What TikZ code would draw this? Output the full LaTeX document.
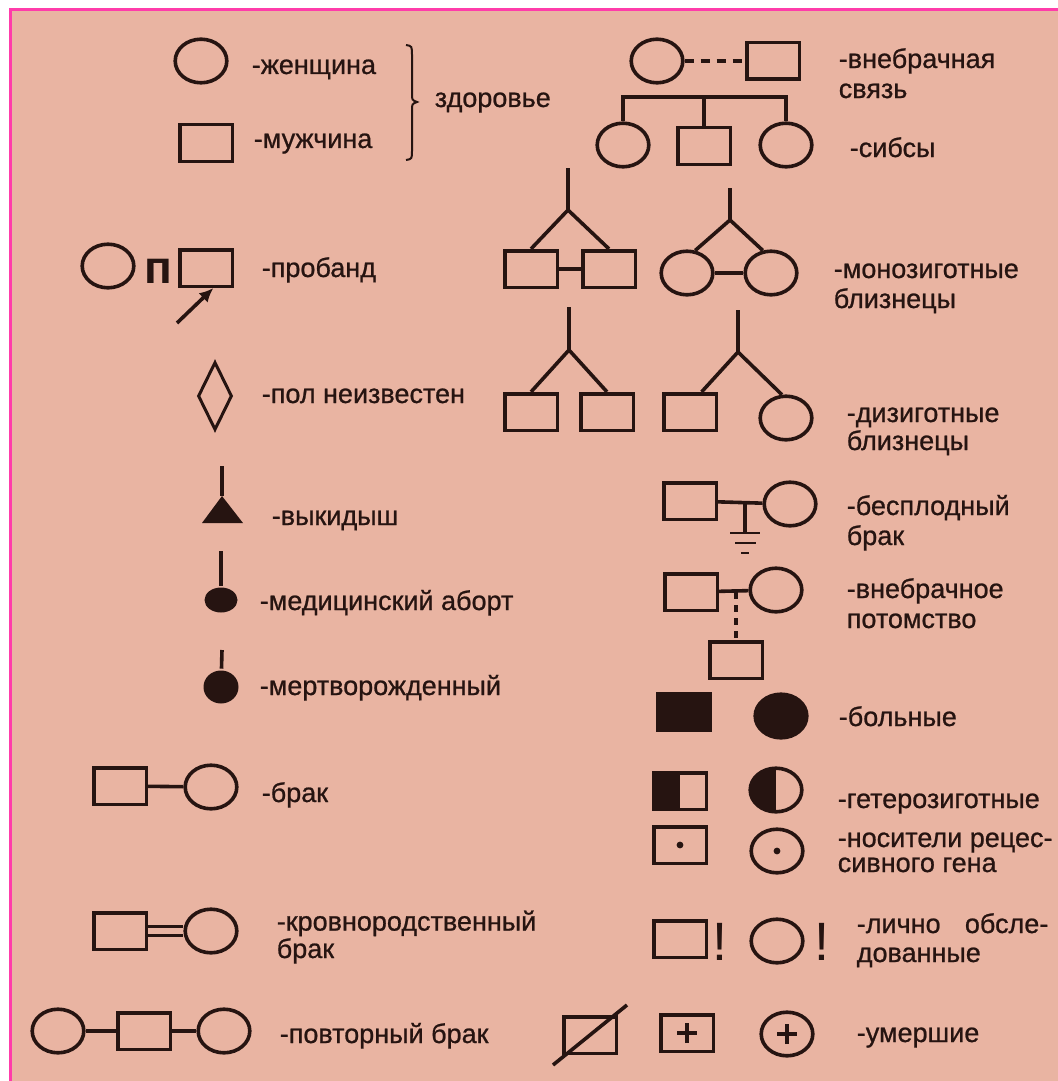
\documentclass[tikz,border=0pt]{standalone}
\usepackage{fontspec}
\setmainfont{Liberation Sans}
\newfontfamily\labelfont{Liberation Sans}[FakeBold=0.8]
\usetikzlibrary{shapes.geometric,arrows.meta}
\definecolor{ink}{RGB}{38,20,17}
\definecolor{paper}{RGB}{233,180,162}
\definecolor{frame}{RGB}{255,60,170}

\begin{document}
\begin{tikzpicture}[x=0.5pt,y=-0.5pt,line width=1.8pt,color=ink]
\tikzstyle{male} = [draw, rectangle, inner sep=0pt, minimum width=26.3pt, minimum height=18.3pt];
\tikzstyle{female} = [draw, ellipse, inner sep=0pt, minimum width=25.8pt, minimum height=21.8pt];
\tikzstyle{txt} = [anchor=base west, inner sep=0pt, align=left, font=\labelfont\fontsize{13.5}{15}\selectfont];
\tikzstyle{half} = [path picture={\fill (path picture bounding box.north west) rectangle (path picture bounding box.south);}];
\tikzstyle{dot} = [path picture={\fill (path picture bounding box.center) circle (1.7pt);}];
\tikzstyle{plus} = [path picture={\draw[line width=2pt] ([yshift=-5pt]path picture bounding box.center) -- ([yshift=5pt]path picture bounding box.center) ([xshift=-5pt]path picture bounding box.center) -- ([xshift=5pt]path picture bounding box.center);}];
\tikzstyle{bang} = [anchor=base, inner sep=0pt, font=\fontsize{27}{27}\selectfont];

\useasboundingbox (0,0) rectangle (1058,1081);
\fill[white] (0,0) rectangle (1058,1081);
\fill[paper] (10,10) rectangle (1058,1081);
\draw[frame, line width=1.5pt] (10,1081) -- (10,10) -- (1058,10);

% left column
\node[female] (woman) at (201,61) {};
\node[male] (man) at (206,143) {};
\node[txt] (lwoman) at (250,74) {-женщина};
\node[txt] (lman) at (252,148) {-мужчина};
\draw[line width=1pt] (406,45) .. controls (412,46) .. (412,56) -- (412,94) .. controls (412,100) .. (417,102) .. controls (412,104) .. (412,110) -- (412,150) .. controls (412,159) .. (406,160);
\node[txt] (lhealth) at (433,107) {здоровье};

\node[female] (pwoman) at (108,266) {};
\node[txt, font=\fontsize{23}{23}\selectfont\bfseries] (pletter) at (143,283) {п};
\node[male] (proband) at (206,268) {};
\node[txt] (lproband) at (260,277) {-пробанд};
\coordinate (ptail) at (177,323);
\draw[-{Latex[length=7pt,width=6.5pt]}] (ptail) -- (proband.-70);

\node[draw, diamond, inner sep=0pt, minimum width=17pt, minimum height=34pt, line width=1.5pt] (unknown) at (215,396) {};
\node[txt] (lunknown) at (260,403) {-пол неизвестен};

\coordinate (mtop) at (222,466);
\coordinate (mapex) at (222,496);
\fill (mapex) -- (243,523) -- (202,523) -- cycle;
\draw (mtop) -- (mapex);
\node[txt] (lmisc) at (270,525) {-выкидыш};

\coordinate (atop) at (221,551);
\node[fill, ellipse, inner sep=0pt, minimum width=16.5pt, minimum height=12.5pt] (abort) at (221,600) {};
\draw (atop) -- (abort);
\node[txt] (labort) at (258,610) {-медицинский аборт};

\coordinate (sbtop) at (222,650);
\node[fill, ellipse, inner sep=0pt, minimum width=17.5pt, minimum height=16.5pt] (still) at (221,687) {};
\draw (sbtop) -- (still);
\node[txt] (lstill) at (258,695) {-мертворожденный};

\node[male] (bm) at (120,786) {};
\node[female] (bf) at (211,787) {};
\draw (bm) -- (bf);
\node[txt] (lmarr) at (260,802) {-брак};

\node[male] (km) at (120,931) {};
\node[female] (kf) at (211,931) {};
\draw[double=paper, double distance=3.4pt, line width=1.5pt] (km) -- (kf);
\node[txt, font=\labelfont\fontsize{13.5}{12.5}\selectfont] (lkin) at (275,958) {-кровнородственный\\брак};

\node[female] (rf1) at (58,1031) {};
\node[male] (rm) at (144,1031) {};
\node[female] (rf2) at (224,1031) {};
\draw (rf1) -- (rm);
\draw (rm) -- (rf2);
\node[txt] (lrep) at (278,1043) {-повторный брак};

% right column
\node[female] (xf) at (657,61) {};
\node[male] (xm) at (773,61) {};
\draw[dash pattern=on 4.5pt off 3.5pt] (xf) -- (xm);
\node[txt] (lextra) at (837,98) {-внебрачная\\связь};

\coordinate (sbar) at (704,97);
\node[female] (s1) at (623,145) {};
\node[male] (s2) at (704,146) {};
\node[female] (s3) at (786,145) {};
\draw (s1) |- (sbar) -| (s3);
\draw (sbar) -- (s2);
\node[txt] (lsibs) at (848,157) {-сибсы};

\coordinate (mza) at (568,168);
\coordinate (mzb) at (568,210);
\node[male] (mz1) at (531,269) {};
\node[male] (mz2) at (609,269) {};
\draw (mza) -- (mzb);
\draw (mzb) -- (mz1.north);
\draw (mzb) -- (mz2.north);
\draw (mz1) -- (mz2);
\coordinate (mzc) at (730,188);
\coordinate (mzd) at (730,220);
\node[female] (mzf1) at (687,273) {};
\node[female] (mzf2) at (771,273) {};
\draw (mzc) -- (mzd);
\draw (mzd) -- (mzf1.70);
\draw (mzd) -- (mzf2.110);
\draw (mzf1) -- (mzf2);
\node[txt] (lmono) at (832,308) {-монозиготные\\близнецы};

\coordinate (dza) at (569,307);
\coordinate (dzb) at (569,350);
\node[male] (dz1) at (531,412) {};
\node[male] (dz2) at (607,412) {};
\draw (dza) -- (dzb);
\draw (dzb) -- (dz1.north);
\draw (dzb) -- (dz2.north);
\coordinate (dzc) at (738,310);
\coordinate (dzd) at (738,352);
\node[male] (dzm) at (690,412) {};
\node[female] (dzf) at (786,418) {};
\draw (dzc) -- (dzd);
\draw (dzd) -- (dzm.60);
\draw (dzd) -- (dzf.100);
\node[txt, font=\labelfont\fontsize{13.5}{14}\selectfont] (ldi) at (845,450) {-дизиготные\\близнецы};

\node[male] (im) at (690,501) {};
\node[female] (if) at (790,504) {};
\draw (im) -- (if);
\coordinate (imid) at (745,502);
\coordinate (ground) at (745,533);
\draw (imid) -- (ground);
\draw[line width=1.4pt] (730,533) -- (760,533) (735,543) -- (756,543) (741,553) -- (749,553);
\node[txt] (linf) at (845,545) {-бесплодный\\брак};

\node[male] (om) at (691,592) {};
\node[female] (of) at (776,590) {};
\draw (om) -- (of);
\coordinate (omid) at (736,592);
\node[male] (oc) at (736,660) {};
\draw[dash pattern=on 3.5pt off 3pt] (omid) -- (oc);
\node[txt] (loff) at (845,628) {-внебрачное\\потомство};

\node[male, fill] (am) at (684,712) {};
\node[female, fill] (af) at (781,716) {};
\node[txt] (lill) at (837,726) {-больные};

\node[male, half] (hm) at (680,791) {};
\node[female, half] (hf) at (776,790) {};
\node[txt] (lhet) at (836,808) {-гетерозиготные};

\node[male, dot] (cm) at (680,845) {};
\node[female, dot] (cf) at (777,851) {};
\node[txt, font=\labelfont\fontsize{13.5}{12.5}\selectfont] (lcar) at (836,872) {-носители рецес-\\сивного гена};

\node[male] (em) at (680,939) {};
\node[bang] (em!) at (720,960) {!};
\node[female] (ef) at (777,941) {};
\node[bang] (ef!) at (822,960) {!};
\node[txt, font=\labelfont\fontsize{13.5}{14.5}\selectfont] (lexam) at (855,962) {-лично\hspace{0.9em}обсле-\\дованные};

\node[male] (dm) at (590,1035) {};
\coordinate (dslash1) at (553,1065);
\coordinate (dslash2) at (627,1005);
\draw (dslash1) -- (dslash2);
\node[male, plus] (dpm) at (687,1033) {};
\node[female, plus] (dpf) at (787,1034) {};
\node[txt] (ldead) at (855,1042) {-умершие};
\end{tikzpicture}
\end{document}
